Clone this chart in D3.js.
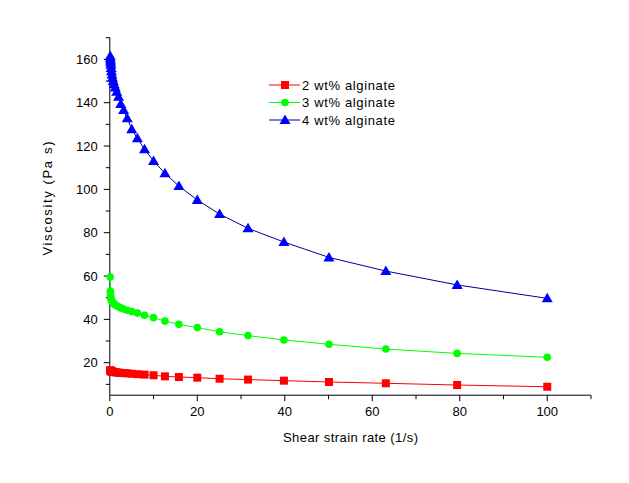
<!DOCTYPE html>
<html><head><meta charset="utf-8">
<script src="https://cdn.jsdelivr.net/npm/d3@7"></script>
<style>body{margin:0;background:#fff}svg{display:block}text{font-family:"Liberation Sans",Arial,sans-serif;fill:#000}</style>
</head><body><svg id="c" width="629" height="483"></svg>
<script>
const shearRate = [0.1,0.126,0.158,0.2,0.251,0.316,0.398,0.501,0.631,0.794,1,1.26,1.58,2,2.51,3.16,3.98,5.01,6.31,7.94,10,12.6,15.8,20,25.1,31.6,39.8,50.1,63.1,79.4,100];
const visc2 = [16.5,16.4,16.3,16.2,16.1,16.0,15.95,15.9,15.8,15.75,15.7,15.6,15.5,15.4,15.3,15.2,15.1,14.9,14.7,14.5,14.2,13.7,13.4,13.1,12.6,12.2,11.7,11.1,10.5,9.7,8.9];
const visc3 = [59.5,53,51.5,50.5,49.8,49.2,48.7,48.3,47.9,47.5,47.1,46.7,46.3,45.8,45.3,44.8,44.2,43.6,42.9,41.9,40.8,39.2,37.7,36.2,34.3,32.5,30.5,28.5,26.3,24.3,22.5];
const visc4 = [161.5,160.5,159.5,158.5,157.5,156,154.5,153,151.5,150,148.5,147,145,142.8,139.4,136.6,132.8,127.8,123.6,118.5,113.1,107.4,101.5,95.1,88.6,82,75.7,68.6,62.3,55.9,49.7];
const seriesNames = ["2 wt% alginate","3 wt% alginate","4 wt% alginate"];
const xTicks = [0,20,40,60,80,100];
const yTicks = [20,40,60,80,100,120,140,160];
const xTitle = "Shear strain rate (1/s)";
const yTitle = "Viscosity (Pa s)";

const svg = d3.select("#c");
const x = d3.scaleLinear().domain([0,110]).range([109.8,591]);
const y = d3.scaleLinear().domain([5,170]).range([395.2,37.7]);

const series = [
  {name:seriesNames[0], vals:visc2, line:"#ff0000", fill:"#ff0000", shape:"square"},
  {name:seriesNames[1], vals:visc3, line:"#00ff00", fill:"#00ff00", shape:"circle"},
  {name:seriesNames[2], vals:visc4, line:"#0000a0", fill:"#0000ff", shape:"triangle"}
];
function marker(g, shape, cx, cy, fill){
  if(shape==="square") g.append("rect").attr("x",cx-4).attr("y",cy-4).attr("width",8).attr("height",8).attr("fill",fill);
  else if(shape==="circle") g.append("circle").attr("cx",cx).attr("cy",cy).attr("r",3.8).attr("fill",fill);
  else g.append("path").attr("d",`M${cx},${cy-5.5}L${cx+5.5},${cy+4}L${cx-5.5},${cy+4}Z`).attr("fill",fill);
}

// axes
const gx = svg.append("g").attr("transform","translate(0,395.2)");
gx.append("line").attr("x1",x(0)).attr("x2",x(110)).attr("stroke","#000");
d3.range(0,111,10).forEach(v=>{
  const major = xTicks.includes(v);
  gx.append("line").attr("x1",x(v)).attr("x2",x(v)).attr("y1",0).attr("y2",major?6:4).attr("stroke","#000");
});
xTicks.forEach(v=>gx.append("text").attr("x",x(v)).attr("y",21).attr("text-anchor","middle").attr("font-size",13).text(v));
const gy = svg.append("g").attr("transform","translate(109.8,0)");
gy.append("line").attr("y1",y(5)).attr("y2",y(170)).attr("stroke","#000");
d3.range(10,171,10).forEach(v=>{
  const major = yTicks.includes(v);
  gy.append("line").attr("y1",y(v)).attr("y2",y(v)).attr("x1",0).attr("x2",major?-6:-4).attr("stroke","#000");
});
yTicks.forEach(v=>gy.append("text").attr("x",-12).attr("y",y(v)).attr("dy","0.36em").attr("text-anchor","end").attr("font-size",13).text(v));

svg.append("text").attr("x",350.5).attr("y",442).attr("text-anchor","middle").attr("font-size",13)
  .attr("textLength",135).attr("lengthAdjust","spacing").text(xTitle);
svg.append("text").attr("transform","translate(52,198.5) rotate(-90)").attr("text-anchor","middle").attr("font-size",13)
  .attr("textLength",114).attr("lengthAdjust","spacing").text(yTitle);

// series
const line = d3.line().x((d,i)=>x(shearRate[i])).y(d=>y(d));
series.forEach(s=>{
  svg.append("path").attr("d",line(s.vals)).attr("fill","none").attr("stroke",s.line).attr("stroke-width",1);
  const g = svg.append("g");
  s.vals.forEach((v,i)=>marker(g,s.shape,x(shearRate[i]),y(v),s.fill));
});

// legend
const leg = svg.append("g");
series.forEach((s,i)=>{
  const ly = 85 + i*17.5;
  leg.append("line").attr("x1",269).attr("x2",300).attr("y1",ly).attr("y2",ly).attr("stroke",s.line);
  marker(leg,s.shape,285,ly,s.fill);
  leg.append("text").attr("x",302).attr("y",ly).attr("dy","0.36em").attr("font-size",13)
    .attr("textLength",93).attr("lengthAdjust","spacing").text(s.name);
});
</script></body></html>
